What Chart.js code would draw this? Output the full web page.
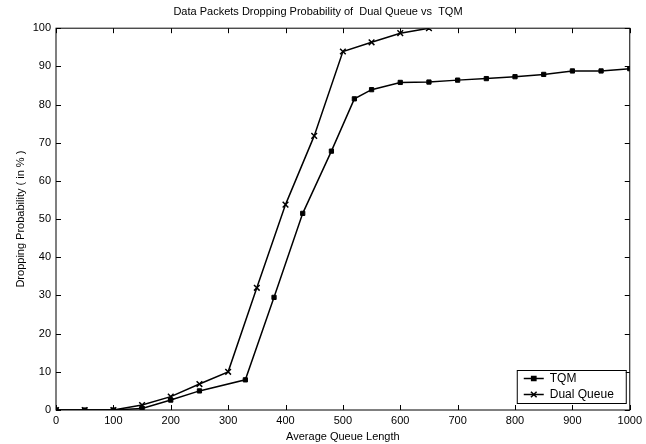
<!DOCTYPE html>
<html>
<head>
<meta charset="utf-8">
<script src="https://cdn.jsdelivr.net/npm/chart.js@4.4.1/dist/chart.umd.min.js"></script>
<style>
  body { margin: 0; background: #fff; }
  #wrap { width: 646px; height: 444px; }
</style>
</head>
<body>
<div id="wrap"><canvas id="dropChart" width="646" height="444"></canvas></div>
<script>
// valores
const tqmX = [0, 50, 100, 150, 200, 250, 330, 380, 430, 480, 520, 550, 600, 650, 700, 750, 800, 850, 900, 950, 1000];
const tqmY = [0, 0, 0, 0.4, 2.6, 5, 7.9, 29.5, 51.5, 67.8, 81.5, 83.9, 85.8, 85.9, 86.4, 86.8, 87.3, 87.9, 88.8, 88.8, 89.4];
const dualX = [0, 50, 100, 150, 200, 250, 300, 350, 400, 450, 500, 550, 600, 650];
const dualY = [0, 0, 0, 1.3, 3.5, 6.8, 10, 32, 53.8, 71.8, 93.9, 96.3, 98.7, 100];
const xTicks = [0, 100, 200, 300, 400, 500, 600, 700, 800, 900, 1000];
const yTicks = [0, 10, 20, 30, 40, 50, 60, 70, 80, 90, 100];

const FONT = { family: 'Liberation Sans, Arial, sans-serif', size: 11 };

function toPoints(xs, ys) {
    return xs.map((x, i) => ({ x: x, y: ys[i] }));
}

// marco y marcas hacia dentro, estilo MATLAB
const boxTicks = {
    id: 'boxTicks',
    afterDatasetsDraw(chart) {
        const { ctx, chartArea: a, scales } = chart;
        const len = 5;
        ctx.save();
        ctx.strokeStyle = '#000';
        ctx.lineWidth = 1;
        ctx.strokeRect(a.left, a.top, a.right - a.left, a.bottom - a.top);
        ctx.beginPath();
        xTicks.forEach(v => {
            const px = Math.round(scales.x.getPixelForValue(v)) + 0.5;
            ctx.moveTo(px, a.bottom); ctx.lineTo(px, a.bottom - len);
            ctx.moveTo(px, a.top); ctx.lineTo(px, a.top + len);
        });
        yTicks.forEach(v => {
            const py = Math.round(scales.y.getPixelForValue(v)) + 0.5;
            ctx.moveTo(a.left, py); ctx.lineTo(a.left + len, py);
            ctx.moveTo(a.right, py); ctx.lineTo(a.right - len, py);
        });
        ctx.stroke();
        ctx.restore();
    }
};

// leyenda dentro del area, abajo a la derecha
const boxLegend = {
    id: 'boxLegend',
    afterDraw(chart) {
        const { ctx, chartArea: a } = chart;
        const w = 109, h = 33;
        const x0 = a.right - 4 - w, y0 = a.bottom - 7 - h;
        ctx.save();
        ctx.fillStyle = '#fff';
        ctx.fillRect(x0, y0, w, h);
        ctx.strokeStyle = '#000';
        ctx.lineWidth = 1;
        ctx.strokeRect(x0 + 0.5, y0 + 0.5, w, h);
        ctx.font = '12px ' + FONT.family;
        ctx.textBaseline = 'middle';
        ctx.fillStyle = '#000';
        chart.data.datasets.forEach((ds, i) => {
            const cy = y0 + 8.5 + i * 16;
            ctx.beginPath();
            ctx.lineWidth = 1.5;
            ctx.moveTo(x0 + 7, cy); ctx.lineTo(x0 + 27, cy);
            ctx.stroke();
            Chart.helpers.drawPoint(ctx, {
                pointStyle: ds.pointStyle, radius: ds.pointRadius, borderWidth: 1.5
            }, x0 + 17, cy);
            ctx.fillText(ds.label, x0 + 33, cy + 0.5);
        });
        ctx.restore();
    }
};

new Chart(document.getElementById('dropChart').getContext('2d'), {
    type: 'line',
    data: {
        datasets: [{
            label: 'TQM',
            data: toPoints(tqmX, tqmY),
            borderColor: '#000',
            backgroundColor: '#000',
            borderWidth: 1.5,
            pointStyle: 'rect',
            pointRadius: 3,
            pointBorderWidth: 1,
            tension: 0
        }, {
            label: 'Dual Queue',
            data: toPoints(dualX, dualY),
            borderColor: '#000',
            backgroundColor: '#000',
            borderWidth: 1.5,
            pointStyle: 'crossRot',
            pointRadius: 4,
            pointBorderWidth: 1.5,
            tension: 0
        }]
    },
    options: {
        responsive: false,
        animation: false,
        layout: { padding: { left: 0, right: 10, top: 0, bottom: 0 } },
        plugins: {
            legend: { display: false },
            tooltip: { enabled: false },
            title: {
                display: true,
                text: 'Data Packets Dropping Probability of  Dual Queue vs  TQM',
                color: '#000',
                font: { family: FONT.family, size: 11, weight: 'normal' },
                padding: { top: 5, bottom: 10 }
            }
        },
        scales: {
            x: {
                type: 'linear',
                min: 0,
                max: 1000,
                afterFit(s) { s.height = 34; },
                afterBuildTicks(s) { s.ticks = xTicks.map(v => ({ value: v })); },
                grid: { display: false, drawTicks: false },
                border: { display: false },
                ticks: {
                    color: '#000', font: FONT, padding: 4, maxRotation: 0,
                    callback: v => String(v)
                },
                title: {
                    display: true, text: 'Average Queue Length', color: '#000',
                    font: FONT, padding: { top: 0, bottom: 0 }
                }
            },
            y: {
                min: 0,
                max: 100,
                afterFit(s) { s.width = 56; },
                afterBuildTicks(s) { s.ticks = yTicks.map(v => ({ value: v })); },
                grid: { display: false, drawTicks: false },
                border: { display: false },
                ticks: { color: '#000', font: FONT, padding: 5, callback: v => String(v) },
                title: {
                    display: true, text: 'Dropping Probability ( in % )', color: '#000',
                    font: FONT, padding: { top: 14, bottom: 0 }
                }
            }
        }
    },
    plugins: [boxTicks, boxLegend]
});
</script>
</body>
</html>
